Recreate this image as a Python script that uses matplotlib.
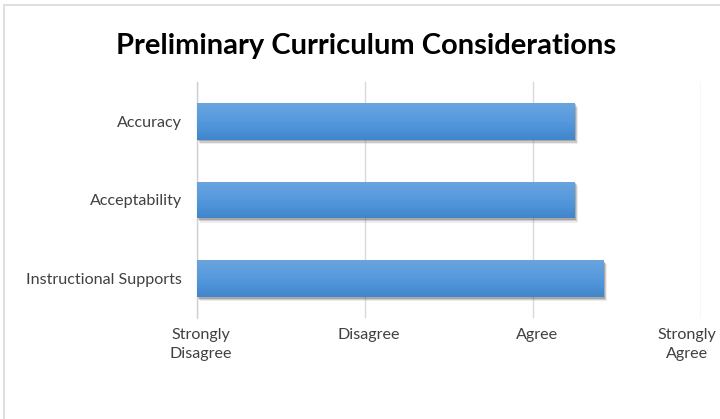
import matplotlib
matplotlib.use("Agg")
import matplotlib.pyplot as plt
import matplotlib.patheffects as pe
from matplotlib.colors import LinearSegmentedColormap
from matplotlib.patches import Rectangle
from matplotlib.transforms import ScaledTranslation
import numpy as np

categories = ["Instructional Supports", "Acceptability", "Accuracy"]
scores = [3.42, 3.25, 3.25]
scale_labels = ["Strongly\nDisagree", "Disagree", "Agree", "Strongly\nAgree"]
scale_values = [1, 2, 3, 4]

plt.rcParams["font.family"] = ["Lato", "DejaVu Sans"]

W, H = 720, 419
fig = plt.figure(figsize=(W / 100, H / 100), dpi=100)

# chart area border (runs off the right and bottom edge like the screenshot)
fig.patches.append(Rectangle((4 / W, -0.05), 1.1, 1 - 5 / H + 0.05,
                             transform=fig.transFigure, fill=False,
                             edgecolor="#d9d9d9", linewidth=1.2))

ax = fig.add_axes([197 / W, 1 - 318 / H, (701 - 197) / W, (318 - 82) / H])

grad = LinearSegmentedColormap.from_list("bar", ["#4186cb", "#5599dd", "#6aa4de"])
gimg = np.linspace(0, 1, 64).reshape(-1, 1)

y = np.arange(len(categories))
bar_h = 0.47
bars = ax.barh(y, [s - 1 for s in scores], left=1, height=bar_h,
               color="#5599dd", edgecolor="none", zorder=2)
for b in bars:
    # soft drop shadow, a few faint layers
    b.set_path_effects([pe.SimplePatchShadow(offset=(2.5, -3), shadow_rgbFace="#888888", alpha=0.15),
                        pe.SimplePatchShadow(offset=(1.5, -2), shadow_rgbFace="#666666", alpha=0.25),
                        pe.SimplePatchShadow(offset=(0.8, -1), shadow_rgbFace="#555555", alpha=0.3),
                        pe.Normal()])
    x0, y0 = b.get_x(), b.get_y()
    im = ax.imshow(gimg, cmap=grad, origin="lower", aspect="auto",
                   extent=(x0, x0 + b.get_width(), y0, y0 + b.get_height()),
                   zorder=3)
    im.set_clip_path(b)

ax.set_xlim(1, 4)
ax.set_ylim(-0.5, len(categories) - 0.5)
ax.set_aspect("auto")

ax.set_yticks(y)
ax.set_yticklabels(categories, fontsize=11.6, color="#404040")
ax.set_xticks(scale_values)
ax.set_xticklabels(scale_labels, fontsize=11.6, color="#404040", linespacing=1.45,
                   verticalalignment="top")
ax.tick_params(axis="y", length=0, pad=11)
ax.tick_params(axis="x", length=0, pad=7)

# last label is pulled inward so it stays inside the picture
lbl = ax.get_xticklabels()[-1]
lbl.set_transform(lbl.get_transform() + ScaledTranslation(-14 / 100, 0, fig.dpi_scale_trans))
for t in ax.get_xticklabels()[:-1]:
    t.set_transform(t.get_transform() + ScaledTranslation(4 / 100, 0, fig.dpi_scale_trans))

ax.grid(axis="x", color="#d9d9d9", linewidth=1, zorder=0)
ax.set_axisbelow(True)
for side in ["top", "right", "bottom"]:
    ax.spines[side].set_visible(False)
ax.spines["left"].set_color("#d0d0d0")
ax.spines["left"].set_linewidth(1)

fig.text(366 / W, 1 - 46 / H, "Preliminary Curriculum Considerations",
         ha="center", va="center", fontsize=21, fontweight="bold", color="black")

fig.savefig("out.png", dpi=100)
